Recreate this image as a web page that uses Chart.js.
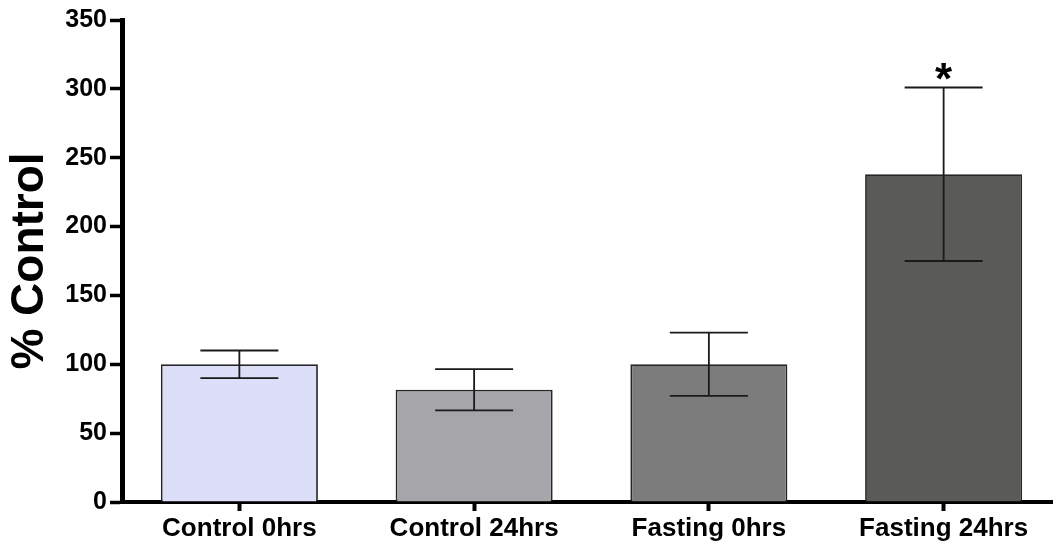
<!DOCTYPE html>
<html>
<head>
<meta charset="utf-8">
<style>
  html, body { margin: 0; padding: 0; background: #fff; overflow: hidden; }
  #wrap { width: 1061px; height: 544px; }
</style>
<script src="https://cdn.jsdelivr.net/npm/chart.js@4/dist/chart.umd.min.js"></script>
</head>
<body>
<div id="wrap"><canvas id="chart" width="1061" height="544"></canvas></div>
<script>
// ── Data ─────────────────────────────────────────────────
const categories = ['Control 0hrs', 'Control 24hrs', 'Fasting 0hrs', 'Fasting 24hrs'];
const means      = [100, 81.5, 100, 238];
const errors     = [10, 15, 23, 63];
const marks      = ['', '', '', '*'];
const yTicks     = [0, 50, 100, 150, 200, 250, 300, 350];

// ── Styles ───────────────────────────────────────────────
const FONT = "'Liberation Sans', Arial, sans-serif";
const barColors = ['#dddff8', '#a6a6aa', '#7c7c7c', '#5a5b56'];

// ── Error bars + significance marks ──────────────────────
const errorBars = {
  id: 'errorBars',
  afterDatasetsDraw(chart) {
    const { ctx, scales: { x, y } } = chart;
    ctx.save();
    ctx.strokeStyle = '#1a1a1a';
    ctx.lineWidth = 1.8;
    means.forEach((m, i) => {
      const cx = x.getPixelForValue(i);
      const hi = y.getPixelForValue(m + errors[i]);
      const lo = y.getPixelForValue(m - errors[i]);
      const half = 39;
      ctx.beginPath();
      ctx.moveTo(cx, hi); ctx.lineTo(cx, lo);
      ctx.moveTo(cx - half, hi); ctx.lineTo(cx + half, hi);
      ctx.moveTo(cx - half, lo); ctx.lineTo(cx + half, lo);
      ctx.stroke();
      if (marks[i]) {
        ctx.fillStyle = '#000';
        ctx.font = 'bold 44px ' + FONT;
        ctx.textAlign = 'center';
        ctx.textBaseline = 'alphabetic';
        ctx.fillText(marks[i], cx, hi + 7);
      }
    });
    ctx.restore();
  }
};

new Chart(document.getElementById('chart'), {
  type: 'bar',
  data: {
    labels: categories,
    datasets: [{
      data: means,
      backgroundColor: barColors,
      borderColor: '#262626',
      borderWidth: 1.8,
      categoryPercentage: 1,
      barPercentage: 0.669
    }]
  },
  options: {
    responsive: false,
    animation: false,
    layout: { padding: { top: 20, right: 0, left: 0, bottom: 0 } },
    plugins: { legend: { display: false }, tooltip: { enabled: false } },
    scales: {
      x: {
        afterFit: (s) => { s.height = 42; },
        grid: {
          offset: false,
          drawOnChartArea: false,
          drawTicks: true,
          tickLength: 9,
          tickWidth: 4,
          color: '#000'
        },
        border: { display: true, width: 4, color: '#000' },
        ticks: {
          color: '#000',
          padding: 2,
          maxRotation: 0,
          font: { family: FONT, size: 26, weight: 'bold' }
        }
      },
      y: {
        min: 0,
        max: 350,
        afterFit: (s) => { s.width = 122; },
        afterBuildTicks: (s) => { s.ticks = yTicks.map(v => ({ value: v })); },
        grid: {
          drawOnChartArea: false,
          drawTicks: true,
          tickLength: 12,
          tickWidth: 3.5,
          color: '#000'
        },
        border: { display: true, width: 5, color: '#000' },
        ticks: {
          color: '#000',
          padding: 3,
          font: { family: FONT, size: 25, weight: 'bold' }
        },
        title: {
          display: true,
          text: '% Control',
          color: '#000',
          padding: { top: 3, bottom: 0 },
          font: { family: FONT, size: 46, weight: 'bold' }
        }
      }
    }
  },
  plugins: [errorBars]
});
</script>
</body>
</html>
